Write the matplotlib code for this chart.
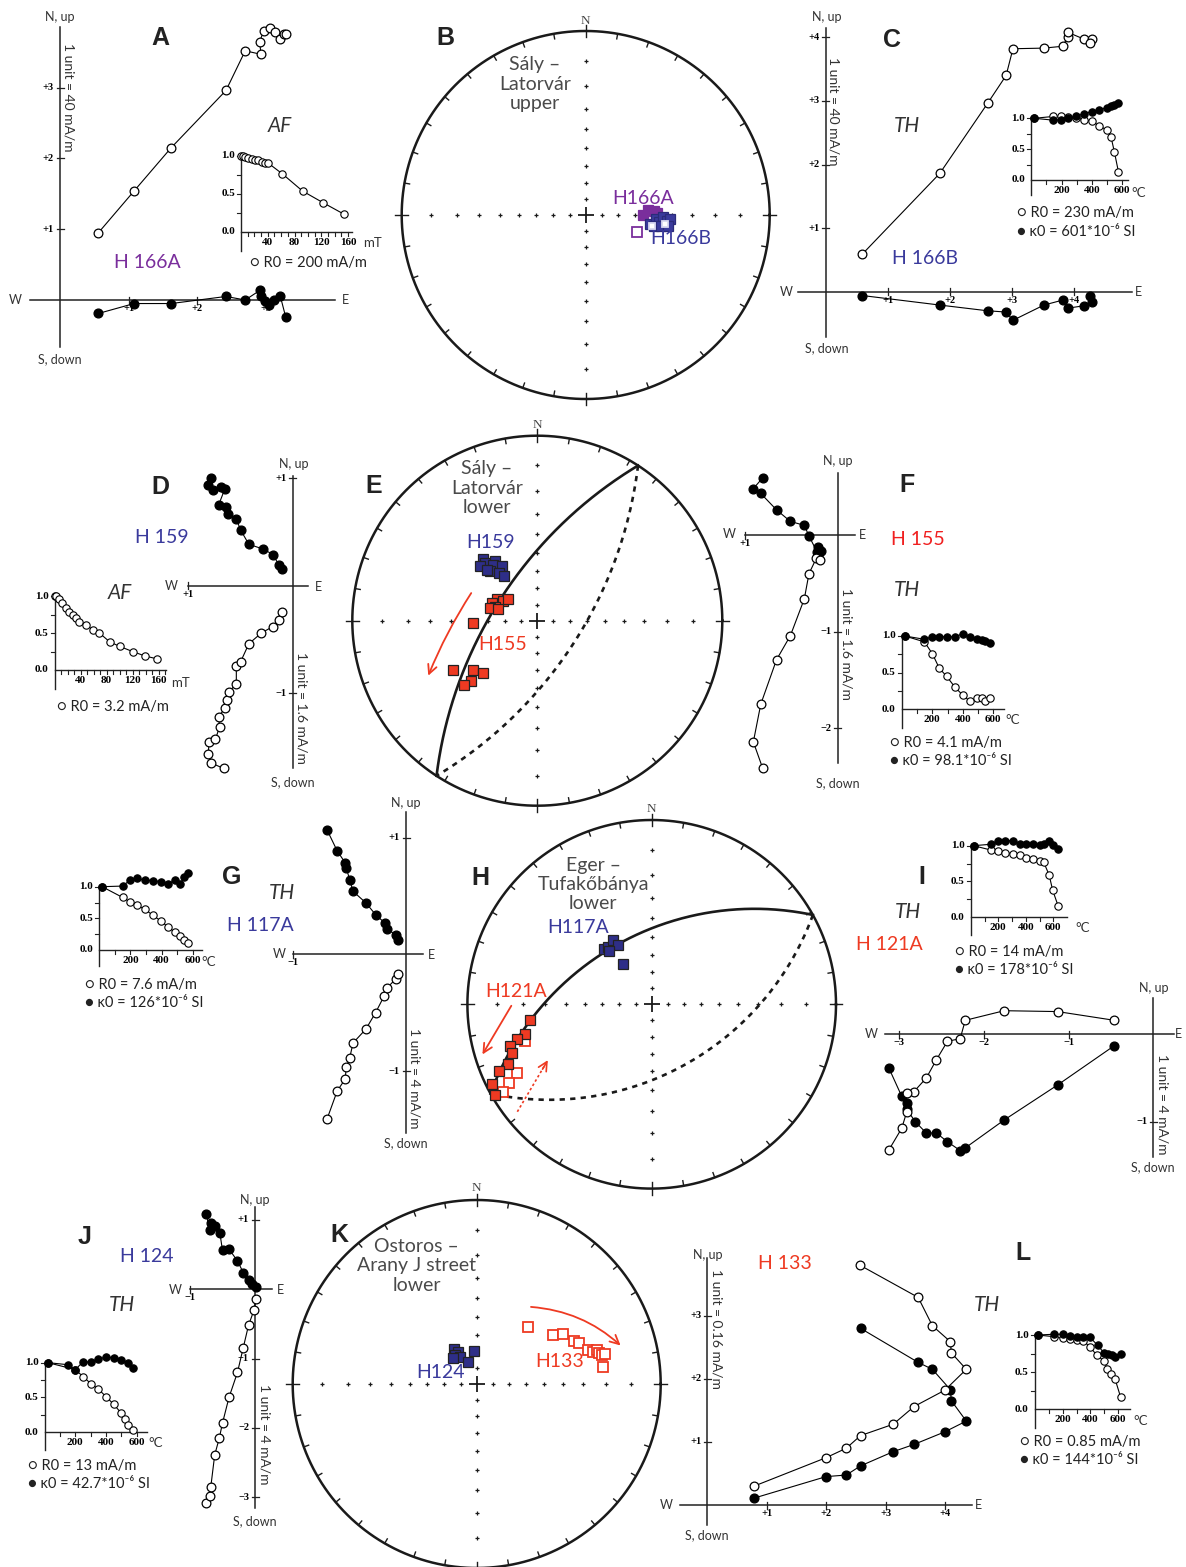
import matplotlib
matplotlib.use("Agg")
import matplotlib.pyplot as plt
import numpy as np
from matplotlib.patches import FancyArrowPatch

plt.rcParams['font.family'] = ['Lato', 'DejaVu Sans']

W, H = 1186, 1567
PURPLE = '#7A2E9C'
BLUE = '#3A3A9C'
NAVY = '#2E2E88'
RED = '#EE3A22'
TXT = '#333333'
SERIF = ['Liberation Serif', 'DejaVu Serif']

# ---------------- Zijderveld data (units of the plot) ----------------
# filled = horizontal projection (E, N), open = vertical projection (E, Up)
a_open_e = [0.56, 1.08, 1.62, 2.42, 2.70, 2.93, 2.91, 2.97, 3.06, 3.13, 3.20, 3.26, 3.30]
a_open_up = [0.95, 1.54, 2.15, 2.96, 3.52, 3.47, 3.65, 3.80, 3.84, 3.78, 3.68, 3.76, 3.76]
a_full_e = [0.56, 1.08, 1.62, 2.42, 2.70, 2.92, 2.93, 2.99, 3.05, 3.12, 3.21, 3.29]
a_full_n = [-0.19, -0.05, -0.05, 0.05, 0.0, 0.14, 0.05, -0.02, -0.07, 0.0, 0.06, -0.24]

c_open_e = [0.59, 1.84, 2.61, 2.91, 3.02, 3.52, 3.83, 3.90, 3.90, 4.17, 4.29, 4.26]
c_open_up = [0.59, 1.86, 2.96, 3.40, 3.82, 3.83, 3.86, 4.01, 4.08, 3.97, 3.97, 3.91]
c_full_e = [0.59, 1.84, 2.61, 2.91, 3.02, 3.52, 3.83, 3.90, 4.17, 4.30, 4.26]
c_full_n = [-0.06, -0.21, -0.30, -0.32, -0.45, -0.21, -0.13, -0.26, -0.22, -0.16, -0.07]

d_full_e = [-0.785, -0.81, -0.76, -0.69, -0.65, -0.71, -0.64, -0.62, -0.54, -0.50, -0.42, -0.28, -0.19, -0.13, -0.10]
d_full_n = [1.0, 0.94, 0.89, 0.92, 0.90, 0.75, 0.73, 0.67, 0.62, 0.52, 0.385, 0.34, 0.29, 0.19, 0.16]
d_open_e = [-0.66, -0.78, -0.81, -0.80, -0.74, -0.70, -0.71, -0.65, -0.63, -0.61, -0.54, -0.54, -0.50, -0.42,
            -0.30, -0.19, -0.13, -0.10]
d_open_up = [-1.70, -1.65, -1.57, -1.45, -1.43, -1.31, -1.22, -1.14, -1.06, -0.99, -0.91, -0.75, -0.71, -0.54,
             -0.44, -0.38, -0.32, -0.24]

f_full_e = [-0.81, -0.91, -0.83, -0.66, -0.51, -0.36, -0.31, -0.22, -0.21, -0.18, -0.20, -0.21]
f_full_n = [0.59, 0.48, 0.43, 0.26, 0.14, 0.10, -0.01, -0.18, -0.12, -0.17, -0.15, -0.22]
f_open_e = [-0.81, -0.91, -0.83, -0.66, -0.51, -0.36, -0.31, -0.23, -0.19]
f_open_up = [-2.41, -2.14, -1.75, -1.29, -1.04, -0.66, -0.40, -0.24, -0.26]

g_full_e = [-0.70, -0.61, -0.54, -0.53, -0.50, -0.47, -0.355, -0.27, -0.19, -0.17, -0.09, -0.07]
g_full_n = [1.065, 0.885, 0.785, 0.74, 0.64, 0.54, 0.44, 0.34, 0.27, 0.22, 0.165, 0.12]
g_open_e = [-0.70, -0.61, -0.54, -0.53, -0.50, -0.47, -0.355, -0.27, -0.195, -0.17, -0.09, -0.07]
g_open_up = [-1.41, -1.17, -1.07, -0.97, -0.89, -0.76, -0.64, -0.50, -0.36, -0.29, -0.21, -0.17]

i_open_e = [-0.46, -1.13, -1.76, -2.22, -2.28, -2.43, -2.56, -2.68, -2.83, -2.91, -2.91, -2.97, -3.12]
i_open_up = [0.16, 0.26, 0.27, 0.16, -0.05, -0.08, -0.29, -0.50, -0.66, -0.675, -0.885, -1.075, -1.32]
i_full_e = [-0.46, -1.13, -1.76, -2.22, -2.28, -2.43, -2.56, -2.68, -2.81, -2.91, -2.91, -2.97, -3.12]
i_full_n = [-0.13, -0.58, -0.98, -1.30, -1.33, -1.23, -1.13, -1.13, -1.0, -0.86, -0.79, -0.71, -0.39]

j_full_e = [-0.75, -0.70, -0.68, -0.62, -0.54, -0.50, -0.40, -0.27, -0.18, -0.09, -0.04, 0.015]
j_full_n = [1.09, 0.86, 0.95, 0.91, 0.81, 0.56, 0.58, 0.41, 0.24, 0.14, 0.08, 0.03]
j_open_e = [-0.75, -0.69, -0.68, -0.62, -0.55, -0.50, -0.40, -0.27, -0.18, -0.10, -0.015, 0.015]
j_open_up = [-3.09, -2.98, -2.85, -2.39, -2.15, -1.93, -1.56, -1.20, -0.84, -0.52, -0.30, -0.14]

l_open_e = [2.57, 3.55, 3.79, 4.09, 4.11, 4.36, 4.00, 3.48, 3.13, 2.58, 2.34, 2.00, 0.79]
l_open_n = [3.80, 3.29, 2.84, 2.59, 2.41, 2.15, 1.82, 1.56, 1.28, 1.10, 0.90, 0.75, 0.30]
l_full_e = [2.58, 3.55, 3.79, 4.09, 4.11, 4.36, 4.00, 3.48, 3.13, 2.58, 2.34, 2.00, 0.79]
l_full_up = [2.80, 2.26, 2.15, 1.83, 1.65, 1.33, 1.16, 0.96, 0.845, 0.62, 0.475, 0.45, 0.11]

# ---------------- demagnetisation curves (normalised) ----------------
a_af_mT = [0, 3, 6, 11, 16, 21, 26, 31, 36, 41, 62, 92, 123, 154]
a_af_R = [1.0, 0.99, 0.98, 0.97, 0.96, 0.95, 0.94, 0.92, 0.91, 0.90, 0.76, 0.535, 0.38, 0.23]

c_th_T = [20, 145, 196, 245, 295, 348, 398, 449, 497, 526, 548, 575]
c_th_R = [1.0, 1.03, 1.03, 1.02, 1.0, 0.98, 0.95, 0.88, 0.81, 0.70, 0.46, 0.135]
c_th_k = [1.0, 0.97, 0.98, 1.0, 1.04, 1.07, 1.11, 1.14, 1.17, 1.20, 1.22, 1.24]

d_af_mT = [0, 3, 7, 12, 17, 23, 28, 33, 38, 49, 59, 69, 85, 100, 120, 139, 158]
d_af_R = [1.0, 1.0, 0.96, 0.90, 0.84, 0.79, 0.74, 0.70, 0.65, 0.61, 0.54, 0.50, 0.38, 0.32, 0.25, 0.19, 0.15]

f_th_T = [20, 148, 200, 246, 294, 349, 399, 447, 491, 524, 546, 578]
f_th_R = [1.0, 0.92, 0.76, 0.56, 0.45, 0.30, 0.195, 0.11, 0.15, 0.15, 0.12, 0.15]
f_th_k = [1.0, 0.955, 0.99, 0.99, 0.99, 0.99, 1.03, 0.99, 0.955, 0.95, 0.93, 0.90]

g_th_T = [20, 151, 198, 240, 294, 343, 394, 442, 485, 517, 545, 570]
g_th_R = [1.0, 0.83, 0.76, 0.71, 0.64, 0.55, 0.46, 0.36, 0.28, 0.22, 0.16, 0.11]
g_th_k = [1.0, 1.01, 1.105, 1.13, 1.105, 1.097, 1.08, 1.04, 1.11, 1.05, 1.15, 1.21]

i_th_T = [20, 145, 195, 250, 305, 355, 405, 455, 500, 530, 570, 595, 635]
i_th_R = [1.0, 0.94, 0.92, 0.90, 0.89, 0.87, 0.83, 0.81, 0.79, 0.77, 0.59, 0.38, 0.16]
i_th_k = [1.0, 1.02, 1.06, 1.07, 1.07, 1.03, 1.02, 1.02, 1.01, 1.02, 1.06, 1.01, 0.95]

j_th_Tk = [20, 150, 200, 250, 300, 350, 400, 450, 500, 540, 575]
j_th_k = [1.0, 0.97, 0.90, 1.01, 1.01, 1.05, 1.08, 1.07, 1.04, 1.0, 0.92]
j_th_TR = [20, 200, 250, 300, 350, 400, 450, 500, 520, 545, 575]
j_th_R = [1.0, 0.90, 0.80, 0.70, 0.62, 0.51, 0.40, 0.27, 0.19, 0.10, 0.04]

l_th_TR = [20, 140, 200, 253, 301, 349, 397, 445, 498, 522, 546, 577, 618]
l_th_R = [1.0, 0.977, 0.955, 0.94, 0.93, 0.92, 0.84, 0.73, 0.65, 0.54, 0.475, 0.41, 0.16]
l_th_Tk = [20, 140, 200, 253, 301, 349, 397, 452, 498, 529, 553, 577, 618]
l_th_k = [1.0, 1.01, 1.01, 0.985, 0.97, 0.977, 0.97, 0.86, 0.76, 0.745, 0.73, 0.71, 0.74]

# ---------------- stereonet directions (dec, inc) ----------------
b_166a_dec = [90, 85, 86.9, 88.5]
b_166a_inc = [55.6, 52.4, 49.4, 47.4]
b_166a_odec = [108]
b_166a_oinc = [-57.6]
b_166b_dec = [98.1, 93.0, 95.7, 91.4, 93.9, 92.5, 99.2, 98.3, 97.6]
b_166b_inc = [51.1, 48.3, 46.2, 44.4, 42.4, 40.6, 48.9, 45.0, 41.2]
b_166b_odec = [99.5, 96.6]
b_166b_oinc = [-49.9, -43.2]

e_159_dec = [318.5, 317.6, 313.7, 324.7, 321.7, 327.4, 316.4, 321.3, 323.5, 315]
e_159_inc = [42.0, 44.4, 43.6, 46.8, 48.0, 51.4, 49.3, 53.6, 56.4, 47.6]
e_155_dec = [298.1, 300.4, 306.7, 291.5, 288.4, 284.7, 286.6, 268.2, 239.6, 232.4, 226.1, 228, 228.7]
e_155_inc = [62.2, 66.0, 67.8, 60.4, 62.8, 60.4, 65.2, 51.8, 34.5, 42.8, 45.4, 38.4, 34.4]
e_plane = (303, 64)  # dip direction, dip

h_117_dec = [319.2, 323.1, 329.2, 330.7, 321.5, 324.3]
h_117_inc = [46.8, 47.3, 45.8, 49.4, 49.4, 59.8]
h_121_dec = [262.7, 256.7, 255.4, 253.6, 250.7, 247.4, 246.4, 243.5, 239.9]
h_121_inc = [22.7, 19.5, 16.0, 12.6, 12.3, 9.7, 5.8, 1.7, 1.0]
h_121_odec = [254, 242.9, 241, 239.6]
h_121_oinc = [-18.9, -11.1, -7.1, -3.7]
h_plane = (331, 49)

k_124_dec = [327, 330.3, 323.2, 328, 338.8, 355.9, 317.7]
k_124_inc = [64.6, 67.2, 67.7, 70.6, 75.6, 69.4, 68.6]
k_133_dec = [42.3, 57.2, 60, 66, 68.1, 73.1, 74.5, 74.2, 75.9, 76.9, 76.8, 82.2]
k_133_inc = [-44.8, -37.7, -33.0, -29.9, -28.0, -25.2, -23.3, -21.8, -21.0, -20.2, -18.8, -20.7]

fig = plt.figure(figsize=(W / 100, H / 100), dpi=100)


def put(x, y, s, size, **kw):
    kw.setdefault('ha', 'center')
    kw.setdefault('va', 'center')
    return fig.text(x / W, 1 - y / H, s, fontsize=size, **kw)


def data_axes(ox, oy, ux, uy, xlim, ylim):
    left = ox + xlim[0] * ux
    right = ox + xlim[1] * ux
    top = oy - ylim[1] * uy
    bottom = oy - ylim[0] * uy
    ax = fig.add_axes([left / W, 1 - bottom / H, (right - left) / W, (bottom - top) / H])
    ax.set_xlim(xlim)
    ax.set_ylim(ylim)
    ax.set_axis_off()
    return ax


def zijder(ox, oy, ux, uy, xline, yline, xticks, yticks, full, opn):
    ax = data_axes(ox, oy, ux, uy, (xline[0] - 0.2, xline[1] + 0.2), (yline[0] - 0.2, yline[1] + 0.2))
    ax.plot(xline, [0, 0], color='#222222', lw=1.1)
    ax.plot([0, 0], yline, color='#222222', lw=1.1)
    for v, lab in xticks:
        ax.plot([v, v], [-3.5 / uy, 3.5 / uy], color='#222222', lw=0.9)
        ax.text(v, -4 / uy, lab, ha='center', va='top', fontsize=7.5, family=SERIF, weight='bold')
    for v, lab in yticks:
        ax.plot([-3.5 / ux, 3.5 / ux], [v, v], color='#222222', lw=0.9)
        ax.text(-6 / ux, v, lab, ha='right', va='center', fontsize=7.5, family=SERIF, weight='bold')
    ax.plot(full[0], full[1], color='k', lw=0.8, marker='o', ms=6.3, mfc='k', mec='k', clip_on=False)
    ax.plot(opn[0], opn[1], color='k', lw=0.8, marker='o', ms=6.3, mfc='white', mec='k', mew=0.9, clip_on=False)
    return ax


def inset(ox, oy, ux, uy, xend, major, minor, curves):
    ax = data_axes(ox, oy, ux, uy, (-22 / ux, xend + 4 / ux), (-0.4, 1.35))
    ax.plot([0, xend], [0, 0], color='#222222', lw=1)
    ax.plot([0, 0], [-0.25, 1.02], color='#222222', lw=1)
    for v in np.arange(minor, xend, minor):
        ax.plot([v, v], [0, -4 / uy], color='#222222', lw=0.8)
    for v in (0.25, 0.5, 0.75, 1.0):
        ax.plot([0, -4 / ux], [v, v], color='#222222', lw=0.8)
    for v in major:
        ax.text(v, -6 / uy, str(v), ha='center', va='top', fontsize=8, family=SERIF, weight='bold')
    for v in (0.0, 0.5, 1.0):
        ax.text(-6 / ux, v, f'{v:.1f}', ha='right', va='center', fontsize=8, family=SERIF, weight='bold')
    for xs, ys, filled in curves:
        ax.plot(xs, ys, color='k', lw=0.8, marker='o', ms=5.3, mfc='k' if filled else 'white',
                mec='k', mew=0.8, clip_on=False)
    return ax


def proj(dec, inc):
    dec = np.radians(np.asarray(dec, float))
    r = np.tan(np.radians(90 - np.abs(np.asarray(inc, float))) / 2)
    return r * np.sin(dec), r * np.cos(dec)


def stereonet(cx, cy, R):
    pad = 1.12
    ax = fig.add_axes([(cx - pad * R) / W, 1 - (cy + pad * R) / H, 2 * pad * R / W, 2 * pad * R / H])
    ax.set_xlim(-pad, pad)
    ax.set_ylim(-pad, pad)
    ax.set_axis_off()
    t = np.linspace(0, 2 * np.pi, 600)
    ax.plot(np.cos(t), np.sin(t), color='#1a1a1a', lw=1.8)
    for d in range(0, 360, 10):
        a = np.radians(d)
        r0, r1 = (0.965, 1.035) if d % 90 == 0 else (0.972, 1.0)
        ax.plot([r0 * np.sin(a), r1 * np.sin(a)], [r0 * np.cos(a), r1 * np.cos(a)], color='#1a1a1a', lw=1)
    rr = np.tan(np.radians(90 - np.arange(10, 90, 10)) / 2)
    z = np.zeros_like(rr)
    ax.plot(np.concatenate([rr, -rr, z, z]), np.concatenate([z, z, rr, -rr]), '+', color='#1a1a1a',
            ms=3.5, mew=0.9)
    ax.plot([0], [0], '+', color='#1a1a1a', ms=11, mew=1.3)
    return ax


def great_circle(ax, plane):
    dd, dp = np.radians(plane[0]), np.radians(plane[1])
    s = np.array([np.sin(dd - np.pi / 2), np.cos(dd - np.pi / 2), 0.0])
    v = np.array([np.sin(dd) * np.cos(dp), np.cos(dd) * np.cos(dp), np.sin(dp)])
    t = np.linspace(0, np.pi, 300)
    pts = np.outer(np.cos(t), s) + np.outer(np.sin(t), v)
    dec = np.degrees(np.arctan2(pts[:, 0], pts[:, 1]))
    inc = np.degrees(np.arcsin(np.clip(pts[:, 2], -1, 1)))
    x, y = proj(dec, inc)
    ax.plot(x, y, color='#1a1a1a', lw=1.9)
    x2, y2 = proj(dec + 180, inc)
    ax.plot(x2, y2, color='#1a1a1a', lw=1.9, ls=(0, (2, 2)))


def squares(ax, dec, inc, color, filled=True, edge='#222222', ms=7.5):
    x, y = proj(dec, inc)
    if filled:
        ax.plot(x, y, 's', ms=ms, mfc=color, mec=edge, mew=0.9)
    else:
        ax.plot(x, y, 's', ms=ms, mfc='white', mec=color, mew=1.3)


def arrow(ax, p0, p1, rad=0.0):
    ax.add_patch(FancyArrowPatch(p0, p1, arrowstyle='->', connectionstyle=f'arc3,rad={rad}',
                                 color=RED, lw=1.3, mutation_scale=16))


# ---------------- Zijderveld plots ----------------
zijder(60, 300, 68.6, 70.8, (-0.44, 4.01), (-0.66, 3.86),
       [(1, '+1'), (2, '+2'), (3, '+3')], [(1, '+1'), (2, '+2'), (3, '+3')],
       (a_full_e, a_full_n), (a_open_e, a_open_up))
zijder(825.7, 291.7, 62, 63.6, (-0.44, 4.94), (-0.71, 4.14),
       [(1, '+1'), (2, '+2'), (3, '+3'), (4, '+4')], [(1, '+1'), (2, '+2'), (3, '+3'), (4, '+4')],
       (c_full_e, c_full_n), (c_open_e, c_open_up))
zijder(292.7, 585.7, 104.4, 107.5, (-1.0, 0.15), (-1.70, 1.02),
       [(-1, '+1')], [(1, '+1'), (-1, '\u22121')],
       (d_full_e, d_full_n), (d_open_e, d_open_up))
zijder(837.7, 535, 92.7, 96.7, (-1.0, 0.19), (-2.36, 0.64),
       [(-1, '+1')], [(-1, '\u22121'), (-2, '\u22122')],
       (f_full_e, f_full_n), (f_open_e, f_open_up))
zijder(406, 954.3, 112.7, 116.7, (-1.0, 0.15), (-1.53, 1.22),
       [(-1, '\u22121')], [(1, '+1'), (-1, '\u22121')],
       (g_full_e, g_full_n), (g_open_e, g_open_up))
zijder(1153.3, 1034.3, 84.7, 87.4, (-3.17, 0.24), (-1.40, 0.41),
       [(-1, '\u22121'), (-2, '\u22122'), (-3, '\u22123')], [(-1, '\u22121')],
       (i_full_e, i_full_n), (i_open_e, i_open_up))
zijder(255, 1289.3, 65, 69.3, (-1.0, 0.26), (-3.16, 1.19),
       [(-1, '\u22121')], [(1, '+1'), (-1, '\u22121'), (-2, '\u22122'), (-3, '\u22123')],
       (j_full_e, j_full_n), (j_open_e, j_open_up))
zijder(707.3, 1505, 59.4, 63.1, (-0.46, 4.45), (-0.32, 3.91),
       [(1, '+1'), (2, '+2'), (3, '+3'), (4, '+4')], [(1, '+1'), (2, '+2'), (3, '+3')],
       (l_full_e, l_full_up), (l_open_e, l_open_n))

axis_words = [
    (60, 17, 'N, up'), (60, 359, 'S, down'), (15, 300, 'W'), (345, 300, 'E'),
    (826.7, 16.7, 'N, up'), (826.7, 348.3, 'S, down'), (786, 291.7, 'W'), (1138, 291.7, 'E'),
    (293.3, 464, 'N, up'), (293.3, 781.7, 'S, down'), (171.7, 585.7, 'W'), (318.3, 586.7, 'E'),
    (837.7, 460.7, 'N, up'), (837.7, 782.7, 'S, down'), (729.3, 534, 'W'), (862.3, 535, 'E'),
    (406, 803.3, 'N, up'), (406, 1143.3, 'S, down'), (279.3, 954.3, 'W'), (431.7, 955, 'E'),
    (1153.3, 988.3, 'N, up'), (1153.3, 1166.7, 'S, down'), (871.7, 1034.3, 'W'), (1178.3, 1034.3, 'E'),
    (255, 1200, 'N, up'), (255, 1520.7, 'S, down'), (175, 1290, 'W'), (280, 1290, 'E'),
    (707.3, 1255, 'N, up'), (707.3, 1535, 'S, down'), (666.7, 1505, 'W'), (978.3, 1505, 'E'),
]
for x, y, s in axis_words:
    put(x, y, s, 9, color=TXT)

unit_labels = [
    (68, 97, '1 unit = 40 mA/m'), (833.3, 111, '1 unit = 40 mA/m'),
    (301.7, 708, '1 unit = 1.6 mA/m'), (846.7, 644, '1 unit = 1.6 mA/m'),
    (415, 1078, '1 unit = 4 mA/m'), (1162.7, 1104, '1 unit = 4 mA/m'),
    (265, 1434, '1 unit = 4 mA/m'), (716.7, 1329, '1 unit = 0.16 mA/m'),
]
for x, y, s in unit_labels:
    put(x, y, s, 10, rotation=-90, color=TXT)

# ---------------- demagnetisation insets ----------------
inset(241, 231.7, 0.669, 76, 166, [40, 80, 120, 160], 10, [(a_af_mT, a_af_R, False)])
inset(1031.3, 180, 0.1515, 61.7, 640, [200, 400, 600], 100,
      [(c_th_T, c_th_R, False), (c_th_T, c_th_k, True)])
inset(54.5, 670, 0.65, 74, 172, [40, 80, 120, 160], 10, [(d_af_mT, d_af_R, False)])
inset(901.8, 709.3, 0.1525, 73.3, 670, [200, 400, 600], 100,
      [(f_th_T, f_th_R, False), (f_th_T, f_th_k, True)])
inset(99, 950, 0.1567, 63.3, 655, [200, 400, 600], 100,
      [(g_th_T, g_th_R, False), (g_th_T, g_th_k, True)])
inset(970.8, 917.3, 0.1375, 71.6, 700, [200, 400, 600], 100,
      [(i_th_T, i_th_R, False), (i_th_T, i_th_k, True)])
inset(44.5, 1432.3, 0.154, 69.7, 663, [200, 400, 600], 100,
      [(j_th_TR, j_th_R, False), (j_th_Tk, j_th_k, True)])
inset(1034.8, 1409.3, 0.139, 74.3, 685, [200, 400, 600], 100,
      [(l_th_TR, l_th_R, False), (l_th_Tk, l_th_k, True)])

for x, y, s in [(372, 242.7, 'mT'), (180, 683.3, 'mT'), (1139, 192.7, '\u00b0C'), (1012.5, 720, '\u00b0C'),
                (209, 962.3, '\u00b0C'), (1082.5, 928.3, '\u00b0C'), (156, 1443.3, '\u00b0C'),
                (1141, 1420.7, '\u00b0C')]:
    put(x, y, s, 9.5, color=TXT)

legend_rows = [
    (250, 263, '\u25cb R0 = 200 mA/m'),
    (1016.7, 213.3, '\u25cb R0 = 230 mA/m'), (1016.7, 231.7, '\u25cf \u03ba0 = 601*10\u207b\u2076 SI'),
    (57, 706.7, '\u25cb R0 = 3.2 mA/m'),
    (890, 742.7, '\u25cb R0 = 4.1 mA/m'), (890, 760.7, '\u25cf \u03ba0 = 98.1*10\u207b\u2076 SI'),
    (85, 985, '\u25cb R0 = 7.6 mA/m'), (85, 1002.7, '\u25cf \u03ba0 = 126*10\u207b\u2076 SI'),
    (955, 951.7, '\u25cb R0 = 14 mA/m'), (955, 970, '\u25cf \u03ba0 = 178*10\u207b\u2076 SI'),
    (28, 1466, '\u25cb R0 = 13 mA/m'), (28, 1484, '\u25cf \u03ba0 = 42.7*10\u207b\u2076 SI'),
    (1020, 1441.7, '\u25cb R0 = 0.85 mA/m'), (1020, 1460, '\u25cf \u03ba0 = 144*10\u207b\u2076 SI'),
]
for x, y, s in legend_rows:
    put(x, y, s, 10.5, ha='left', color='#222222')

# ---------------- stereonets ----------------
axB = stereonet(585.7, 215, 184)
squares(axB, b_166a_dec, b_166a_inc, PURPLE, edge=PURPLE, ms=7)
squares(axB, b_166a_odec, b_166a_oinc, PURPLE, filled=False, ms=7)
squares(axB, b_166b_dec, b_166b_inc, BLUE, edge='#2b2b7a', ms=7)
squares(axB, b_166b_odec, b_166b_oinc, '#d8d8f0', filled=False, ms=5)

axE = stereonet(537.3, 620.7, 185)
great_circle(axE, e_plane)
squares(axE, e_159_dec, e_159_inc, NAVY)
squares(axE, e_155_dec, e_155_inc, RED)
arrow(axE, (-0.349, 0.162), (-0.595, -0.311), rad=0.05)

axH = stereonet(651.7, 1004.3, 184.3)
great_circle(axH, h_plane)
squares(axH, h_117_dec, h_117_inc, NAVY)
squares(axH, h_121_odec, h_121_oinc, RED, filled=False)
squares(axH, h_121_dec, h_121_inc, RED)
arrow(axH, (-0.754, 0.005), (-0.926, -0.285))
axH.plot([-0.729, -0.575], [-0.583, -0.322], color=RED, lw=1.2, ls=(0, (1.5, 1.5)))
axH.add_patch(FancyArrowPatch((-0.60, -0.365), (-0.556, -0.290), arrowstyle='->', color=RED,
                              lw=1.2, mutation_scale=16))

axK = stereonet(476.7, 1384, 184)
squares(axK, k_124_dec, k_124_inc, NAVY)
squares(axK, k_133_dec, k_133_inc, RED, filled=False)
arrow(axK, (0.280, 0.420), (0.793, 0.199), rad=-0.18)

for x, y in [(585.7, 20.7), (537.3, 425), (651.7, 809.3), (476.7, 1188.3)]:
    put(x, y, 'N', 9.5, family=SERIF, color='#444444')

for x, y, txt in [(535, 84, 'S\u00e1ly \u2013\nLatorv\u00e1r\nupper'),
                  (486.7, 488, 'S\u00e1ly \u2013\nLatorv\u00e1r\nlower'),
                  (593.3, 884.3, 'Eger \u2013\nTufak\u0151b\u00e1nya\nlower'),
                  (416.7, 1266, 'Ostoros \u2013\nArany J street\nlower')]:
    put(x, y, txt, 14, color='#4a4a4a', linespacing=1.15)

# ---------------- labels ----------------
for x, y, s in [(160, 38, 'A'), (445, 38, 'B'), (891.7, 40, 'C'), (160, 486.7, 'D'), (373.3, 486, 'E'),
                (907.3, 485, 'F'), (231.7, 877.3, 'G'), (480.7, 878.3, 'H'), (921.7, 877.3, 'I'),
                (85, 1236.7, 'J'), (339.3, 1235, 'K'), (1023.3, 1253.3, 'L')]:
    put(x, y, s, 18, family=['Liberation Sans', 'DejaVu Sans'], weight='bold', color='#222222')

for x, y, s, c in [(147, 262, 'H 166A', PURPLE), (925, 258.3, 'H 166B', BLUE), (161.7, 537.7, 'H 159', BLUE),
                   (918.3, 539.3, 'H 155', '#F02020'), (260, 925, 'H 117A', BLUE), (889.3, 945, 'H 121A', RED),
                   (146.7, 1256, 'H 124', BLUE), (785, 1263.3, 'H 133', RED),
                   (643, 198, 'H166A', PURPLE), (681, 239, 'H166B', BLUE), (490.7, 542.7, 'H159', BLUE),
                   (502.7, 645, 'H155', RED), (578.3, 927.7, 'H117A', BLUE), (516, 991.7, 'H121A', RED),
                   (440, 1372.3, 'H124', BLUE), (559.3, 1361.7, 'H133', RED)]:
    put(x, y, s, 14, color=c)

for x, y, s in [(280, 126, 'AF'), (906.7, 126, 'TH'), (120, 593.3, 'AF'), (906.7, 590, 'TH'),
                (281.7, 893.3, 'TH'), (908.3, 911.7, 'TH'), (121.7, 1305, 'TH'), (987.3, 1305, 'TH')]:
    put(x, y, s, 15, style='italic', color='#333333')

fig.savefig('out.png', dpi=100, facecolor='white')
